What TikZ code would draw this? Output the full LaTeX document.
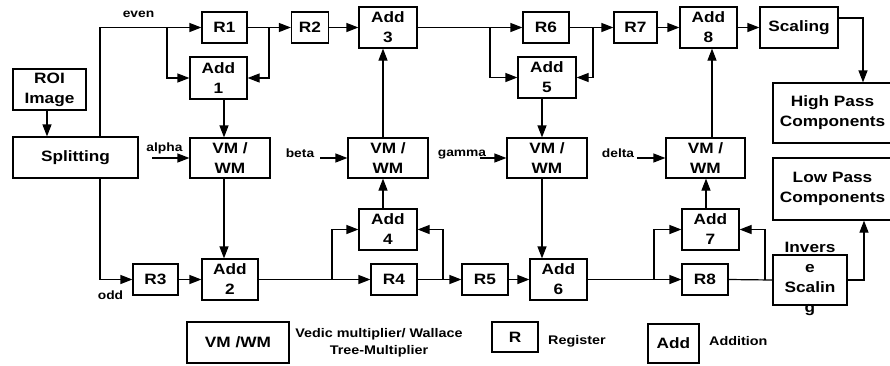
\documentclass[tikz,border=0pt]{standalone}
\usepackage{fontspec}
\setmainfont{Liberation Sans}[FakeStretch=1.15]
\usetikzlibrary{arrows.meta,calc}
\tikzset{
  box/.style={draw, line width=1.2pt, align=center, inner sep=0pt,
    font=\bfseries\fontsize{15}{20}\selectfont},
  boxtext/.style={align=center, inner sep=0pt, font=\bfseries\fontsize{15}{20}\selectfont},
  arr/.style={-{Triangle[length=12pt,width=9pt]}, line width=1.2pt},
  ln/.style={line width=1.2pt},
  lbl/.style={inner sep=0pt, font=\bfseries\fontsize{12}{14}\selectfont},
  leg/.style={inner sep=0pt, align=center, font=\bfseries\fontsize{12.5}{17}\selectfont},
}
\begin{document}
\begin{tikzpicture}[x=1pt,y=-1pt]
\useasboundingbox (0,0) rectangle (890,365);
\clip (0,0) rectangle (890,365);

% ---- nodes
\node[box, minimum width=73pt, minimum height=41pt] (roi) at (49.5,89.5) {ROI\\Image};
\node[box, minimum width=125pt, minimum height=41pt] (split) at (75.5,157.5) {Splitting};

\node[box, minimum width=45pt, minimum height=31pt] (r1) at (224.5,27.5) {R1};
\node[box, minimum width=57pt, minimum height=42pt] (add1) at (218.5,78) {Add\\1};
\node[box, minimum width=80pt, minimum height=40pt] (vm1) at (230,158) {VM /\\WM};

\node[box, minimum width=37pt, minimum height=31pt] (r2) at (310,27.5) {R2};
\node[box, minimum width=58pt, minimum height=41pt] (add3) at (388,27.5) {Add\\3};
\node[box, minimum width=80pt, minimum height=40pt] (vm2) at (388,158) {VM /\\WM};

\node[box, minimum width=46pt, minimum height=31pt] (r6) at (546,27.5) {R6};
\node[box, minimum width=58pt, minimum height=41pt] (add5) at (547,77.5) {Add\\5};
\node[box, minimum width=80pt, minimum height=40pt] (vm3) at (547,158) {VM /\\WM};

\node[box, minimum width=43pt, minimum height=31pt] (r7) at (635.5,27.5) {R7};
\node[box, minimum width=57pt, minimum height=41pt] (add8) at (708.5,27.5) {Add\\8};
\node[box, minimum width=78pt, minimum height=41pt] (scal) at (799,27.5) {Scaling};
\node[box, minimum width=79pt, minimum height=40pt] (vm4) at (705.5,158) {VM /\\WM};

\node[box, minimum width=127pt, minimum height=60pt] (high) at (836.5,113)
  {\hspace*{-8pt}High Pass\\\hspace*{-8pt}Components};
\node[box, minimum width=127pt, minimum height=62pt] (low) at (836.5,189)
  {\hspace*{-8pt}Low Pass\\\hspace*{-8pt}Components};

\node[box, minimum width=45pt, minimum height=31pt] (r3) at (155.5,279.5) {R3};
\node[box, minimum width=56pt, minimum height=41pt] (add2) at (230,279.5) {Add\\2};
\node[box, minimum width=58pt, minimum height=41pt] (add4) at (388,229.5) {Add\\4};
\node[box, minimum width=46pt, minimum height=31pt] (r4) at (394,279.5) {R4};
\node[box, minimum width=46pt, minimum height=31pt] (r5) at (485,279.5) {R5};
\node[box, minimum width=57pt, minimum height=41pt] (add6) at (558.5,279.5) {Add\\6};
\node[box, minimum width=57pt, minimum height=41pt] (add7) at (710.5,229.5) {Add\\7};
\node[box, minimum width=46pt, minimum height=31pt] (r8) at (705,279.5) {R8};
\node[box, minimum width=74pt, minimum height=50pt] (inv) at (810,280) {};
\node[boxtext] (invt) at (810,279) {Invers\\e\\Scalin\\g};

% legend
\node[box, minimum width=102pt, minimum height=41pt] (lvm) at (238,342.5) {VM /WM};
\node[leg] (lvmt) at (379,343) {Vedic multiplier/ Wallace\\Tree-Multiplier};
\node[box, minimum width=46pt, minimum height=30pt] (lr) at (515,337) {R};
\node[leg, anchor=west] (lrt) at (548,341) {Register};
\node[box, minimum width=51pt, minimum height=39pt] (ladd) at (673.5,343.5) {Add};
\node[leg, anchor=west] (laddt) at (709,341) {Addition};

% input labels
\node[lbl] (even) at (138.5,14) {even};
\node[lbl] (odd) at (110.5,295) {odd};
\node[lbl] (alpha) at (164.5,148) {alpha};
\node[lbl] (beta) at (300,153) {beta};
\node[lbl] (gamma) at (462,155) {gamma};
\node[lbl] (delta) at (618,153) {delta};

% ---- coordinates
\coordinate (ev) at (100,27.5);
\coordinate (b1) at (167,27.5);
\coordinate (b2) at (269,27.5);
\coordinate (b3) at (332,279.5);
\coordinate (b4) at (443,279.5);
\coordinate (b5) at (490,27.5);
\coordinate (b6) at (593,27.5);
\coordinate (b7) at (654,279.5);
\coordinate (b8) at (765,279.5);
\coordinate (k0) at (47,0);
\coordinate (k1) at (224,0);
\coordinate (k2) at (383,0);
\coordinate (k3) at (542,0);
\coordinate (k4) at (706,0);
\coordinate (k5) at (712,0);
\coordinate (sc) at (863,18);
\coordinate (iv) at (864,280);
\coordinate (ia) at (152,158);
\coordinate (ib) at (320,158);
\coordinate (ig) at (480,158);
\coordinate (id) at (637,158);

% ---- connectors
\draw[arr] (roi.south -| k0) -- (split.north -| k0);
\draw[arr] (split.north -| ev) |- (r1.west);
\draw[arr] (b1) |- (add1.west);
\draw[arr] (r1.east) -- (r2.west);
\draw[arr] (b2) |- (add1.east);
\draw[arr] (add1.south -| k1) -- (vm1.north -| k1);
\draw[arr] (ia) -- (vm1.west);
\draw[arr] (split.south -| ev) |- (r3.west);
\draw[arr] (r3.east) -- (add2.west);
\draw[arr] (vm1.south -| k1) -- (add2.north -| k1);

\draw[arr] (add2.east) -- (r4.west);
\draw[arr] (b3) |- (add4.west);
\draw[arr] (r4.east) -- (r5.west);
\draw[arr] (b4) |- (add4.east);
\draw[arr] (add4.north -| k2) -- (vm2.south -| k2);
\draw[arr] (vm2.north -| k2) -- (add3.south -| k2);
\draw[arr] (ib) -- (vm2.west);
\draw[arr] (r2.east) -- (add3.west);

\draw[arr] (add3.east) -- (r6.west);
\draw[arr] (b5) |- (add5.west);
\draw[arr] (r6.east) -- (r7.west);
\draw[arr] (b6) |- (add5.east);
\draw[arr] (add5.south -| k3) -- (vm3.north -| k3);
\draw[arr] (ig) -- (vm3.west);
\draw[arr] (vm3.south -| k3) -- (add6.north -| k3);
\draw[arr] (r5.east) -- (add6.west);

\draw[arr] (add6.east) -- (r8.west);
\draw[arr] (b7) |- (add7.west);
\draw[ln] (r8.east) -- (inv.west);
\draw[arr] (b8) |- (add7.east);
\draw[arr] (add7.north -| k4) -- (vm4.south -| k4);
\draw[arr] (vm4.north -| k5) -- (add8.south -| k5);
\draw[arr] (id) -- (vm4.west);
\draw[arr] (r7.east) -- (add8.west);
\draw[arr] (add8.east) -- (scal.west);
\draw[arr] (scal.east |- sc) -| (high.north -| sc);
\draw[arr] (inv.east) -| (low.south -| iv);
\end{tikzpicture}
\end{document}
